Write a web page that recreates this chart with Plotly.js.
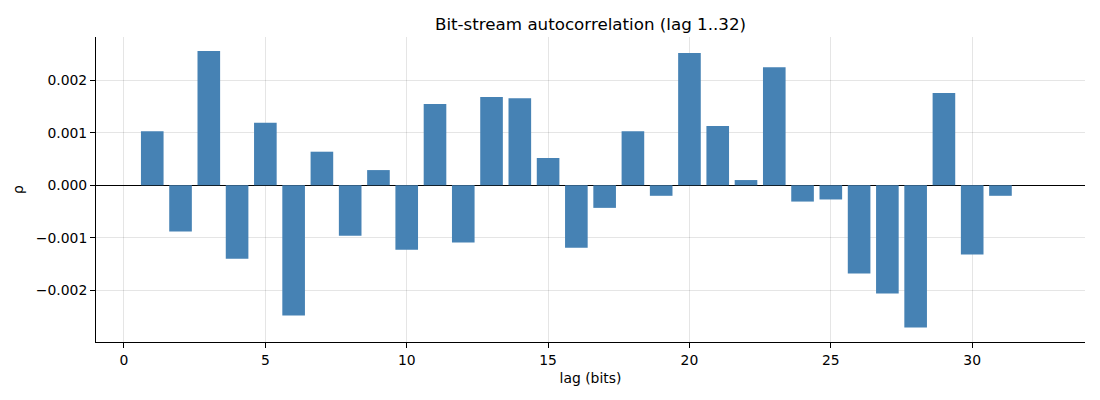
<!DOCTYPE html>
<html>
<head>
<meta charset="utf-8">
<script src="https://cdn.plot.ly/plotly-3.0.1.min.js"></script>
<style>
  body { margin: 0; }
  #chart { width: 1100px; height: 400px; }
</style>
</head>
<body>
<div id="chart"></div>
<script>
// lags and autocorrelation values
let lags = [1, 2, 3, 4, 5, 6, 7, 8, 9, 10, 11, 12, 13, 14, 15, 16,
            17, 18, 19, 20, 21, 22, 23, 24, 25, 26, 27, 28, 29, 30, 31, 32];
let rho = [0.00103, -0.00088, 0.00256, -0.00140, 0.00119, -0.00248, 0.00064, -0.00096,
           0.00029, -0.00123, 0.00155, -0.00109, 0.00168, 0.00166, 0.00052, -0.00119,
           -0.00043, 0.00103, -0.00020, 0.00252, 0.00113, 0.00010, 0.00225, -0.00031,
           -0.00027, -0.00168, -0.00206, -0.00271, 0.00176, -0.00132, -0.00020, 0.0];

let yTicks = [-0.002, -0.001, 0, 0.001, 0.002];
let yTickText = ["\u22120.002", "\u22120.001", "0.000", "0.001", "0.002"];
let xTicks = [0, 5, 10, 15, 20, 25, 30];

let trace = {
  x: lags,
  y: rho,
  type: "bar",
  marker: { color: "#4682b4" },
  hoverinfo: "x+y"
};

let axisFont = { family: "DejaVu Sans", size: 13.9, color: "#000" };

let layout = {
  width: 1100,
  height: 400,
  margin: { l: 96, r: 15, t: 37, b: 58 },
  paper_bgcolor: "#fff",
  plot_bgcolor: "#fff",
  bargap: 0.2,
  showlegend: false,
  font: axisFont,
  title: {
    text: "Bit-stream autocorrelation (lag 1..32)",
    font: { family: "DejaVu Sans", size: 16.7, color: "#000" },
    xref: "paper", x: 0.5, xanchor: "center",
    yref: "container", y: 0.94, yanchor: "middle"
  },
  xaxis: {
    range: [-0.99, 33.99],
    tickvals: xTicks,
    ticks: "outside", ticklen: 5, tickcolor: "#000",
    showline: true, linecolor: "#000", linewidth: 1,
    showgrid: true, gridcolor: "rgba(0,0,0,0.1)", gridwidth: 1,
    zeroline: false,
    tickfont: axisFont,
    title: { text: "lag (bits)", font: axisFont, standoff: 6 }
  },
  yaxis: {
    range: [-0.002985, 0.002825],
    tickvals: yTicks,
    ticktext: yTickText,
    ticks: "outside", ticklen: 5, tickcolor: "#000",
    showline: true, linecolor: "#000", linewidth: 1,
    showgrid: true, gridcolor: "rgba(0,0,0,0.1)", gridwidth: 1,
    zeroline: true, zerolinecolor: "#000", zerolinewidth: 1,
    tickfont: axisFont,
    title: { text: "ρ", font: axisFont, standoff: 8 }
  }
};

Plotly.newPlot("chart", [trace], layout, { displayModeBar: false, staticPlot: true });
</script>
</body>
</html>
